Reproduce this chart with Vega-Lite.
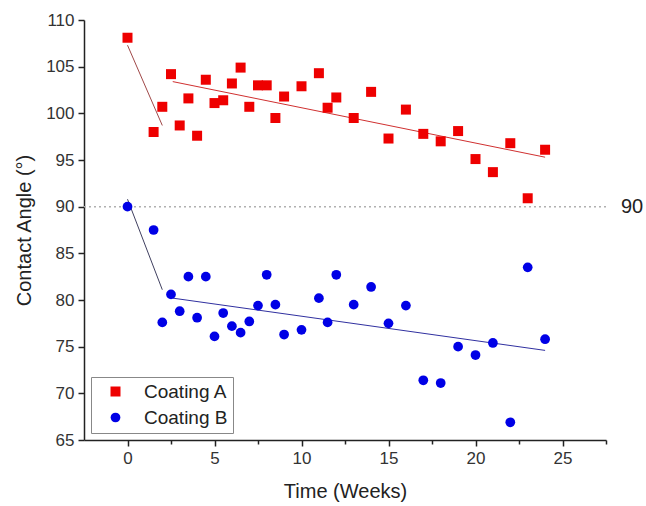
{
  "$schema": "https://vega.github.io/schema/vega-lite/v6.json",
  "width": 522,
  "height": 420,
  "autosize": {"type": "none"},
  "padding": {"left": 84, "top": 20, "right": 40, "bottom": 66},
  "background": "white",
  "config": {
    "view": {"stroke": null},
    "font": "Liberation Sans",
    "axis": {
      "grid": false,
      "domainColor": "#222222",
      "domainWidth": 1.5,
      "tickColor": "#222222",
      "tickWidth": 1.5,
      "labelFont": "Liberation Sans",
      "labelFontSize": 17,
      "labelColor": "#333333",
      "titleFont": "Liberation Sans",
      "titleFontSize": 20,
      "titleFontWeight": "normal",
      "titleColor": "#222222"
    },
    "legend": {
      "labelFont": "Liberation Sans",
      "labelFontSize": 19,
      "labelColor": "#222222"
    }
  },
  "datasets": {
    "pts": [
      {"series": "Coating A", "week": 0, "angle": 108.1},
      {"series": "Coating A", "week": 1.5, "angle": 98.0},
      {"series": "Coating A", "week": 2, "angle": 100.7},
      {"series": "Coating A", "week": 2.5, "angle": 104.2},
      {"series": "Coating A", "week": 3, "angle": 98.7},
      {"series": "Coating A", "week": 3.5, "angle": 101.6},
      {"series": "Coating A", "week": 4, "angle": 97.6},
      {"series": "Coating A", "week": 4.5, "angle": 103.6},
      {"series": "Coating A", "week": 5, "angle": 101.1},
      {"series": "Coating A", "week": 5.5, "angle": 101.4},
      {"series": "Coating A", "week": 6, "angle": 103.2},
      {"series": "Coating A", "week": 6.5, "angle": 104.9},
      {"series": "Coating A", "week": 7, "angle": 100.7},
      {"series": "Coating A", "week": 7.5, "angle": 103.0},
      {"series": "Coating A", "week": 8, "angle": 103.0},
      {"series": "Coating A", "week": 8.5, "angle": 99.5},
      {"series": "Coating A", "week": 9, "angle": 101.8},
      {"series": "Coating A", "week": 10, "angle": 102.9},
      {"series": "Coating A", "week": 11, "angle": 104.3},
      {"series": "Coating A", "week": 11.5, "angle": 100.6},
      {"series": "Coating A", "week": 12, "angle": 101.7},
      {"series": "Coating A", "week": 13, "angle": 99.5},
      {"series": "Coating A", "week": 14, "angle": 102.3},
      {"series": "Coating A", "week": 15, "angle": 97.3},
      {"series": "Coating A", "week": 16, "angle": 100.4},
      {"series": "Coating A", "week": 17, "angle": 97.8},
      {"series": "Coating A", "week": 18, "angle": 97.0},
      {"series": "Coating A", "week": 19, "angle": 98.1},
      {"series": "Coating A", "week": 20, "angle": 95.1},
      {"series": "Coating A", "week": 21, "angle": 93.7},
      {"series": "Coating A", "week": 22, "angle": 96.8},
      {"series": "Coating A", "week": 23, "angle": 90.9},
      {"series": "Coating A", "week": 24, "angle": 96.1},
      {"series": "Coating B", "week": 0, "angle": 90.0},
      {"series": "Coating B", "week": 1.5, "angle": 87.5},
      {"series": "Coating B", "week": 2, "angle": 77.6},
      {"series": "Coating B", "week": 2.5, "angle": 80.6},
      {"series": "Coating B", "week": 3, "angle": 78.8},
      {"series": "Coating B", "week": 3.5, "angle": 82.5},
      {"series": "Coating B", "week": 4, "angle": 78.1},
      {"series": "Coating B", "week": 4.5, "angle": 82.5},
      {"series": "Coating B", "week": 5, "angle": 76.1},
      {"series": "Coating B", "week": 5.5, "angle": 78.6},
      {"series": "Coating B", "week": 6, "angle": 77.2},
      {"series": "Coating B", "week": 6.5, "angle": 76.5},
      {"series": "Coating B", "week": 7, "angle": 77.7},
      {"series": "Coating B", "week": 7.5, "angle": 79.4},
      {"series": "Coating B", "week": 8, "angle": 82.7},
      {"series": "Coating B", "week": 8.5, "angle": 79.5},
      {"series": "Coating B", "week": 9, "angle": 76.3},
      {"series": "Coating B", "week": 10, "angle": 76.8},
      {"series": "Coating B", "week": 11, "angle": 80.2},
      {"series": "Coating B", "week": 11.5, "angle": 77.6},
      {"series": "Coating B", "week": 12, "angle": 82.7},
      {"series": "Coating B", "week": 13, "angle": 79.5},
      {"series": "Coating B", "week": 14, "angle": 81.4},
      {"series": "Coating B", "week": 15, "angle": 77.5},
      {"series": "Coating B", "week": 16, "angle": 79.4},
      {"series": "Coating B", "week": 17, "angle": 71.4},
      {"series": "Coating B", "week": 18, "angle": 71.1},
      {"series": "Coating B", "week": 19, "angle": 75.0},
      {"series": "Coating B", "week": 20, "angle": 74.1},
      {"series": "Coating B", "week": 21, "angle": 75.4},
      {"series": "Coating B", "week": 22, "angle": 66.9},
      {"series": "Coating B", "week": 23, "angle": 83.5},
      {"series": "Coating B", "week": 24, "angle": 75.8}
    ],
    "fits": [
      {"seg": "A1", "week": 0, "angle": 107.3},
      {"seg": "A1", "week": 2, "angle": 98.7},
      {"seg": "A2", "week": 2.6, "angle": 103.4},
      {"seg": "A2", "week": 24, "angle": 95.3},
      {"seg": "B1", "week": 0, "angle": 90.8},
      {"seg": "B1", "week": 2, "angle": 81.1},
      {"seg": "B2", "week": 2.6, "angle": 80.2},
      {"seg": "B2", "week": 24, "angle": 74.6}
    ],
    "ref": [
      {"angle": 90, "week": 27.5, "label": "90"}
    ]
  },
  "layer": [
    {
      "data": {"name": "ref"},
      "mark": {"type": "rule", "color": "#b0b0b0", "strokeWidth": 1.5, "strokeDash": [2, 3]},
      "encoding": {"y": {"field": "angle", "type": "quantitative"}}
    },
    {
      "data": {"name": "ref"},
      "mark": {"type": "text", "align": "left", "baseline": "middle", "dx": 15, "fontSize": 20, "color": "#222222", "font": "Liberation Sans"},
      "encoding": {
        "x": {"field": "week", "type": "quantitative"},
        "y": {"field": "angle", "type": "quantitative"},
        "text": {"field": "label"}
      }
    },
    {
      "data": {"name": "fits"},
      "mark": {"type": "line", "strokeWidth": 1},
      "encoding": {
        "x": {"field": "week", "type": "quantitative"},
        "y": {"field": "angle", "type": "quantitative"},
        "detail": {"field": "seg"},
        "stroke": {
          "field": "seg",
          "type": "nominal",
          "scale": {"domain": ["A1", "A2", "B1", "B2"], "range": ["#a04848", "#d03030", "#404060", "#3030a0"]},
          "legend": null
        }
      }
    },
    {
      "data": {"name": "pts"},
      "mark": {"type": "point", "filled": true, "opacity": 1},
      "encoding": {
        "x": {
          "field": "week",
          "type": "quantitative",
          "title": "Time (Weeks)",
          "scale": {"domain": [-2.5, 27.5], "nice": false, "zero": false},
          "axis": {
            "values": [0, 2.5, 5, 7.5, 10, 12.5, 15, 17.5, 20, 22.5, 25, 27.5],
            "labelExpr": "datum.value % 5 === 0 ? datum.label : ''",
            "tickSize": {"condition": {"test": "datum.value % 5 === 0", "value": 6}, "value": 4},
            "labelPadding": 4,
            "titlePadding": 15
          }
        },
        "y": {
          "field": "angle",
          "type": "quantitative",
          "title": "Contact Angle (°)",
          "scale": {"domain": [65, 110], "nice": false, "zero": false},
          "axis": {
            "values": [65, 67.5, 70, 72.5, 75, 77.5, 80, 82.5, 85, 87.5, 90, 92.5, 95, 97.5, 100, 102.5, 105, 107.5, 110],
            "labelExpr": "datum.value % 5 === 0 ? datum.label : ''",
            "tickSize": {"condition": {"test": "datum.value % 5 === 0", "value": 6}, "value": 4},
            "labelPadding": 4,
            "titlePadding": 11
          }
        },
        "color": {
          "field": "series",
          "type": "nominal",
          "scale": {"domain": ["Coating A", "Coating B"], "range": ["#ee0000", "#0000e6"]},
          "legend": {
            "title": null,
            "orient": "bottom-left",
            "offset": 7,
            "strokeColor": "#888888",
            "padding": 5,
            "rowPadding": 6,
            "symbolSize": 70,
            "symbolOffset": 10,
            "labelOffset": 19,
            "fillColor": "white"
          }
        },
        "shape": {
          "field": "series",
          "type": "nominal",
          "scale": {"domain": ["Coating A", "Coating B"], "range": ["square", "circle"]}
        },
        "size": {
          "field": "series",
          "type": "nominal",
          "scale": {"domain": ["Coating A", "Coating B"], "range": [100, 95]},
          "legend": null
        }
      }
    }
  ]
}
